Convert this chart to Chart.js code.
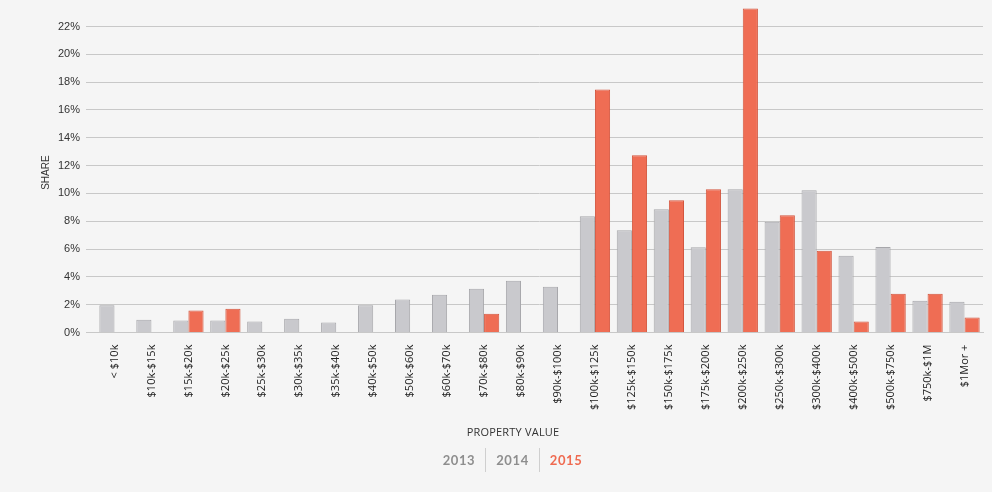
<!DOCTYPE html>
<html>
<head>
<meta charset="utf-8">
<script src="https://cdn.jsdelivr.net/npm/chart.js@4"></script>
<style>
  body { margin: 0; background: #f5f5f5; }
  #wrap { position: relative; width: 992px; height: 492px; }
  #wrap canvas { position: absolute; left: 0; top: 0; }
  #xtitle { position: absolute; top: 424px; left: 0; width: 1026px; text-align: center;
    font: 11px "Open Sans", Lato, sans-serif; color: #333; letter-spacing: 0.2px; }
  #legend { position: absolute; top: 448px; left: 0; width: 1025px; text-align: center;
    font: bold 13px Lato, sans-serif; letter-spacing: 0.6px; }
  #legend span { display: inline-block; padding: 4px 10px; color: #8e8e8e; }
  #legend span + span { border-left: 1px solid #cfcfcf; }
</style>
</head>
<body>
<div id="wrap">
  <canvas id="myChart" width="992" height="492"></canvas>
  <div id="xtitle">PROPERTY VALUE</div>
  <div id="legend"><span>2013</span><span>2014</span><span style="color:#ef6a50">2015</span></div>
</div>
<script>
var ctx = document.getElementById('myChart');

var ranges = ['< $10k', '$10k-$15k', '$15k-$20k', '$20k-$25k', '$25k-$30k', '$30k-$35k',
  '$35k-$40k', '$40k-$50k', '$50k-$60k', '$60k-$70k', '$70k-$80k', '$80k-$90k',
  '$90k-$100k', '$100k-$125k', '$125k-$150k', '$150k-$175k', '$175k-$200k',
  '$200k-$250k', '$250k-$300k', '$300k-$400k', '$400k-$500k', '$500k-$750k',
  '$750k-$1M', '$1Mor +'];

var share2014 = [1.96, 0.93, 0.86, 0.86, 0.79, 1.0, 0.72, 1.96, 2.37, 2.72, 3.15, 3.73,
  3.30, 8.36, 7.36, 8.87, 6.14, 10.30, 7.96, 10.23, 5.52, 6.16, 2.29, 2.22];
var share2015 = [null, null, 1.58, 1.72, null, null, null, null, null, null, 1.36, null,
  null, 17.47, 12.74, 9.51, 10.30, 23.3, 8.44, 5.88, 0.79, 2.80, 2.80, 1.08];

var yTicks = [0, 2, 4, 6, 8, 10, 12, 14, 16, 18, 20, 22];

var myChart = new Chart(ctx, {
  type: 'bar',
  data: {
    labels: ranges,
    datasets: [{
      label: '2014',
      data: share2014,
      backgroundColor: '#c9c9cd',
      borderColor: '#a7a7ab',
      borderWidth: 1
    }, {
      label: '2015',
      data: share2015,
      backgroundColor: '#ef6d54',
      borderColor: '#d3563e',
      borderWidth: 1,
      clip: false
    }]
  },
  options: {
    responsive: false,
    animation: false,
    datasets: { bar: { barPercentage: 1, categoryPercentage: 0.82 } },
    layout: { padding: { top: 4, left: 32, right: 9, bottom: 78 } },
    plugins: { legend: { display: false }, tooltip: { enabled: false } },
    scales: {
      x: {
        grid: { display: false },
        border: { color: '#c8c8c8' },
        ticks: {
          maxRotation: 90, minRotation: 90, autoSkip: false, padding: 4,
          color: '#222', font: { family: '"Open Sans", Lato, sans-serif', size: 11 }
        }
      },
      y: {
        min: 0,
        max: 23.0,
        afterBuildTicks: function (axis) {
          axis.ticks = yTicks.map(function (v) { return { value: v }; });
        },
        grid: { color: '#c8c8c8', tickLength: 10 },
        border: { display: false },
        ticks: {
          padding: 6, color: '#333',
          font: { family: '"Liberation Sans", Arial, sans-serif', size: 11 },
          callback: function (v) { return v + '%'; }
        },
        title: {
          display: true, text: 'SHARE', color: '#333', padding: { top: 8, bottom: 0 },
          font: { family: '"Liberation Sans", Arial, sans-serif', size: 10 }
        }
      }
    }
  }
});
</script>
</body>
</html>
